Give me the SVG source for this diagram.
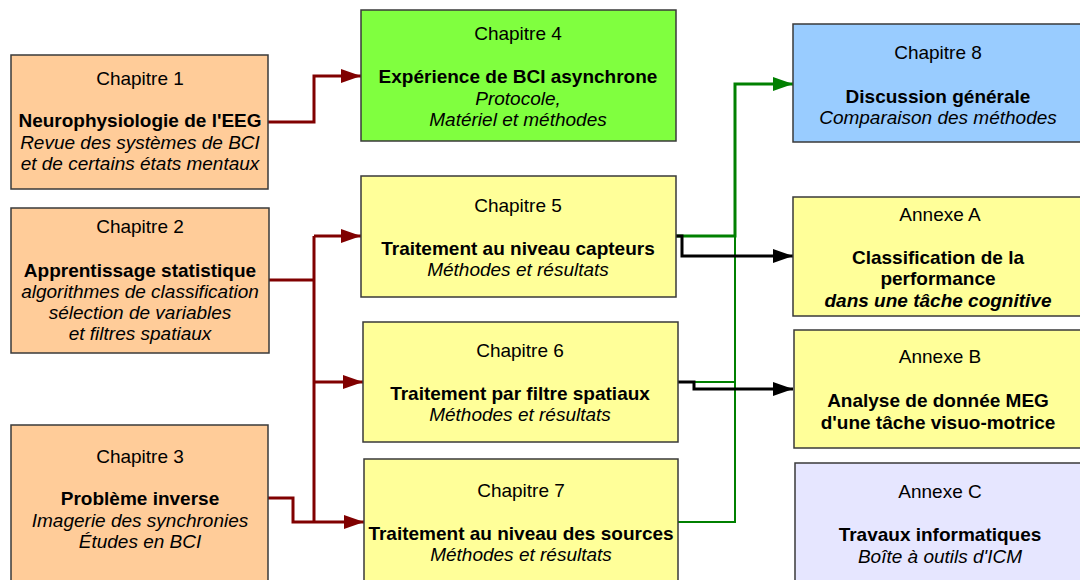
<svg xmlns="http://www.w3.org/2000/svg" width="1080" height="580" viewBox="0 0 1080 580">
<style>
text{font-family:"Liberation Sans",Arial,sans-serif;font-size:19px;fill:#000;text-anchor:middle}
.b{font-weight:bold}
.i{font-style:italic}
.box{stroke:#3a3a3a;stroke-width:1.5}
.peach{fill:#FFCC99}
.lime{fill:#80FF3F}
.yel{fill:#FFFF99}
.blue{fill:#99CCFF}
.lav{fill:#E6E6FF}
.red{fill:none;stroke:#800000;stroke-width:3}
.grn{fill:none;stroke:#008000;stroke-width:3}
.grn2{fill:none;stroke:#008000;stroke-width:2}
.blk{fill:none;stroke:#000;stroke-width:3}
</style>
<defs>
<marker id="ar" markerUnits="userSpaceOnUse" markerWidth="20" markerHeight="14" refX="20" refY="7" orient="auto"><path d="M0,0 L20,7 L0,14 z" fill="#800000"/></marker>
<marker id="ag" markerUnits="userSpaceOnUse" markerWidth="20" markerHeight="14" refX="20" refY="7" orient="auto"><path d="M0,0 L20,7 L0,14 z" fill="#008000"/></marker>
<marker id="ab" markerUnits="userSpaceOnUse" markerWidth="20" markerHeight="14" refX="20" refY="7" orient="auto"><path d="M0,0 L20,7 L0,14 z" fill="#000"/></marker>
</defs>

<g id="connectors">
<path class="red" d="M268,122 H314 V76 H361" marker-end="url(#ar)"/>
<path class="red" d="M269,280 H314"/>
<path class="red" d="M314,236 V522"/>
<path class="red" d="M314,236 H361" marker-end="url(#ar)"/>
<path class="red" d="M314,382 H363" marker-end="url(#ar)"/>
<path class="red" d="M268,498 H293 V522 H364" marker-end="url(#ar)"/>
<path class="grn2" d="M678,522 H735 V236"/>
<path class="grn2" d="M678,382 H735"/>
<path class="grn" d="M676,236 H735 V84 H793" marker-end="url(#ag)"/>
<path class="blk" d="M676,236 H682 V256 H793" marker-end="url(#ab)"/>
<path class="blk" d="M678,382 H694 V389 H793" marker-end="url(#ab)"/>
</g>

<g id="ch1">
<rect class="box peach" x="11" y="55" width="257" height="134"/>
<text x="140" y="85">Chapitre 1</text>
<text class="b" x="140" y="127">Neurophysiologie de l'EEG</text>
<text class="i" x="140" y="149">Revue des systèmes de BCI</text>
<text class="i" x="140" y="170">et de certains états mentaux</text>
</g>
<g id="ch2">
<rect class="box peach" x="11" y="208" width="258" height="145"/>
<text x="140" y="233">Chapitre 2</text>
<text class="b" x="140" y="277">Apprentissage statistique</text>
<text class="i" x="140" y="298">algorithmes de classification</text>
<text class="i" x="140" y="319">sélection de variables</text>
<text class="i" x="140" y="340">et filtres spatiaux</text>
</g>
<g id="ch3">
<rect class="box peach" x="11" y="425" width="257" height="160"/>
<text x="140" y="463">Chapitre 3</text>
<text class="b" x="140" y="505">Problème inverse</text>
<text class="i" x="140" y="527">Imagerie des synchronies</text>
<text class="i" x="140" y="548">Études en BCI</text>
</g>
<g id="ch4">
<rect class="box lime" x="361" y="10" width="315" height="131"/>
<text x="518" y="40">Chapitre 4</text>
<text class="b" x="518" y="83">Expérience de BCI asynchrone</text>
<text class="i" x="518" y="105">Protocole,</text>
<text class="i" x="518" y="126">Matériel et méthodes</text>
</g>
<g id="ch5">
<rect class="box yel" x="361" y="176" width="315" height="121"/>
<text x="518" y="212">Chapitre 5</text>
<text class="b" x="518" y="255">Traitement au niveau capteurs</text>
<text class="i" x="518" y="276">Méthodes et résultats</text>
</g>
<g id="ch6">
<rect class="box yel" x="363" y="322" width="315" height="120"/>
<text x="520" y="357">Chapitre 6</text>
<text class="b" x="520" y="400">Traitement par filtre spatiaux</text>
<text class="i" x="520" y="421">Méthodes et résultats</text>
</g>
<g id="ch7">
<rect class="box yel" x="364" y="459" width="314" height="126"/>
<text x="521" y="497">Chapitre 7</text>
<text class="b" x="521" y="540">Traitement au niveau des sources</text>
<text class="i" x="521" y="561">Méthodes et résultats</text>
</g>
<g id="ch8">
<rect class="box blue" x="793" y="24" width="292" height="118"/>
<text x="938" y="59">Chapitre 8</text>
<text class="b" x="938" y="103">Discussion générale</text>
<text class="i" x="938" y="124">Comparaison des méthodes</text>
</g>
<g id="annexeA">
<rect class="box yel" x="793" y="197" width="292" height="119"/>
<text x="940" y="221">Annexe A</text>
<text class="b" x="938" y="264">Classification de la</text>
<text class="b" x="938" y="285">performance</text>
<text class="b i" x="938" y="307">dans une tâche cognitive</text>
</g>
<g id="annexeB">
<rect class="box yel" x="794" y="330" width="292" height="118"/>
<text x="940" y="363">Annexe B</text>
<text class="b" x="938" y="407">Analyse de donnée MEG</text>
<text class="b" x="938" y="429">d'une tâche visuo-motrice</text>
</g>
<g id="annexeC">
<rect class="box lav" x="795" y="463" width="292" height="122"/>
<text x="940" y="498">Annexe C</text>
<text class="b" x="940" y="541">Travaux informatiques</text>
<text class="i" x="940" y="563">Boîte à outils d'ICM</text>
</g>
</svg>
